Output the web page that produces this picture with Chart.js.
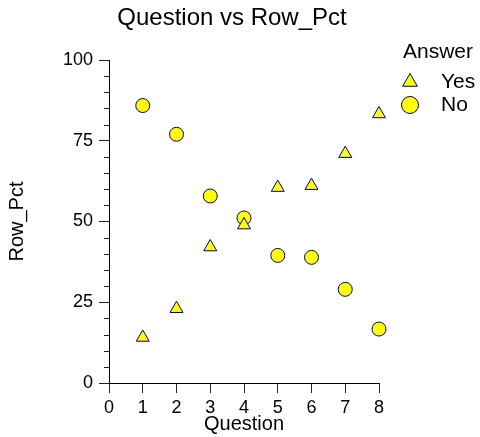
<!DOCTYPE html>
<html lang="en">
<head>
<meta charset="UTF-8">
<title>Question vs Row_Pct</title>
<script src="https://cdn.jsdelivr.net/npm/chart.js"></script>
<style>
  html, body { margin: 0; padding: 0; background: #fff; }
  #wrap { width: 480px; height: 437px; }
</style>
</head>
<body>
<div id="wrap"><canvas id="myChart"></canvas></div>
<script>
    // data
    const questions = [1, 2, 3, 4, 5, 6, 7, 8];
    const yesPct = [14.1, 23.0, 42.1, 48.9, 60.5, 61.1, 71.0, 83.3];
    const noPct = [85.9, 77.0, 57.9, 51.1, 39.5, 38.9, 29.0, 16.7];
    const yTicks = [0, 25, 50, 75, 100];
    const xTicks = [0, 1, 2, 3, 4, 5, 6, 7, 8];
    const legendTitle = "Answer";

    const FONT = "'Liberation Sans', Arial, sans-serif";
    const YELLOW = "#ffff00";
    const NAVY = "#000080";

    function points(ys) {
        return questions.map((q, i) => ({ x: q, y: ys[i] }));
    }

    // minor ticks on the y axis, every 5
    const minorTicks = {
        id: 'minorTicks',
        afterDraw(chart) {
            const y = chart.scales.y;
            const ctx = chart.ctx;
            ctx.save();
            ctx.strokeStyle = '#222';
            ctx.lineWidth = 1;
            for (let v = y.min; v <= y.max; v += 5) {
                if (v % 25 === 0) continue;
                const py = Math.round(y.getPixelForValue(v)) + 0.5;
                ctx.beginPath();
                ctx.moveTo(y.right - 5, py);
                ctx.lineTo(y.right, py);
                ctx.stroke();
            }
            ctx.restore();
        }
    };

    // legend at the top right, like the original
    const sideLegend = {
        id: 'sideLegend',
        afterDraw(chart) {
            const ctx = chart.ctx;
            const x0 = chart.chartArea.right + 24;
            ctx.save();
            ctx.textBaseline = 'middle';
            ctx.textAlign = 'left';
            ctx.font = "21px " + FONT;
            ctx.fillStyle = '#000';
            ctx.fillText(legendTitle, x0, 52);
            chart.data.datasets.forEach((ds, i) => {
                const y = 82 + i * 23;
                ctx.fillStyle = ds.backgroundColor;
                ctx.strokeStyle = ds.borderColor;
                ctx.lineWidth = 1;
                const opts = { pointStyle: ds.pointStyle, radius: 8.5, borderWidth: 1, rotation: 0 };
                if (Chart.helpers && Chart.helpers.drawPoint) {
                    Chart.helpers.drawPoint(ctx, opts, x0 + 7, y);
                } else {
                    ctx.beginPath();
                    if (ds.pointStyle === 'triangle') {
                        ctx.moveTo(x0 + 7, y - 8.5);
                        ctx.lineTo(x0 + 7 + 7.4, y + 4.25);
                        ctx.lineTo(x0 + 7 - 7.4, y + 4.25);
                        ctx.closePath();
                    } else {
                        ctx.arc(x0 + 7, y, 8.5, 0, Math.PI * 2);
                    }
                    ctx.fill();
                    ctx.stroke();
                }
                ctx.fillStyle = '#000';
                ctx.fillText(ds.label, x0 + 38, y);
            });
            ctx.restore();
        }
    };

    new Chart("myChart", {
        type: "scatter",
        data: {
            datasets: [{
                label: "Yes",
                data: points(yesPct),
                pointStyle: "triangle",
                pointRadius: 7.5,
                pointHoverRadius: 7.5,
                backgroundColor: YELLOW,
                borderColor: NAVY,
                borderWidth: 1,
                clip: false
            }, {
                label: "No",
                data: points(noPct),
                pointStyle: "circle",
                pointRadius: 7,
                pointHoverRadius: 7,
                backgroundColor: YELLOW,
                borderColor: NAVY,
                borderWidth: 1,
                clip: false
            }]
        },
        options: {
            responsive: true,
            maintainAspectRatio: false,
            animation: false,
            events: [],
            layout: { padding: { left: 0, right: 16, top: 0, bottom: 0 } },
            plugins: {
                title: {
                    display: true,
                    text: "Question vs Row_Pct",
                    color: "#000",
                    font: { family: FONT, size: 24, weight: "normal" },
                    padding: { top: 4, bottom: 27.2 }
                },
                legend: { display: false },
                tooltip: { enabled: false }
            },
            scales: {
                x: {
                    type: "linear",
                    min: 0,
                    max: 8,
                    afterBuildTicks(axis) { axis.ticks = xTicks.map(v => ({ value: v })); },
                    afterFit(axis) { axis.height = 54; },
                    grid: { drawOnChartArea: false, tickLength: 10, tickColor: "#222" },
                    border: { color: "#000" },
                    ticks: { color: "#000", padding: 4, font: { family: FONT, size: 18 } },
                    title: {
                        display: true,
                        text: "Question",
                        color: "#000",
                        padding: { top: 0, bottom: 1 },
                        font: { family: FONT, size: 20 }
                    }
                },
                y: {
                    min: 0,
                    max: 100,
                    afterBuildTicks(axis) { axis.ticks = yTicks.map(v => ({ value: v })); },
                    afterFit(axis) { axis.width = 109; },
                    grid: { drawOnChartArea: false, tickLength: 10, tickColor: "#222" },
                    border: { color: "#000" },
                    ticks: { color: "#000", padding: 6, font: { family: FONT, size: 18 } },
                    title: {
                        display: true,
                        text: "Row_Pct",
                        color: "#000",
                        padding: { top: 5, bottom: 0 },
                        font: { family: FONT, size: 20 }
                    }
                },
                // empty axis on the right, only holds room for the legend
                side: {
                    type: "linear",
                    position: "right",
                    display: true,
                    afterFit(axis) { axis.width = 85; },
                    grid: { display: false },
                    border: { display: false },
                    ticks: { display: false }
                }
            }
        },
        plugins: [minorTicks, sideLegend]
    });
</script>
</body>
</html>
